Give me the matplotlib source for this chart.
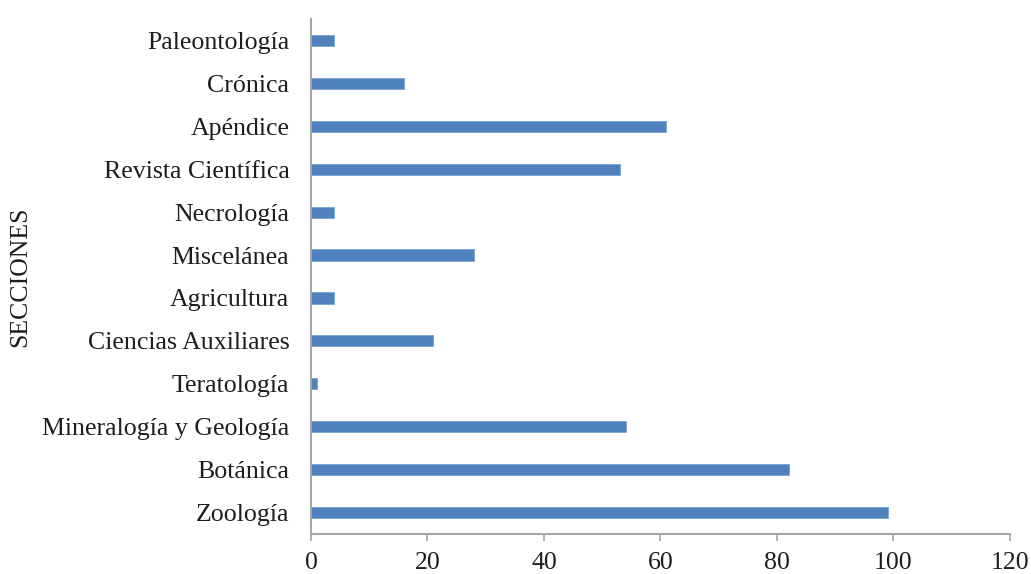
import matplotlib.pyplot as plt

secciones = ['Zoología', 'Botánica', 'Mineralogía y Geología', 'Teratología',
             'Ciencias Auxiliares', 'Agricultura', 'Miscelánea', 'Necrología',
             'Revista Científica', 'Apéndice', 'Crónica', 'Paleontología']
valores = [99, 82, 54, 1, 21, 4, 28, 4, 53, 61, 16, 4]

plt.rcParams['font.family'] = ['Liberation Serif', 'DejaVu Serif']

fig = plt.figure(figsize=(10.31, 5.74), dpi=100)
ax = fig.add_axes([0.3016, 0.0697, 0.678, 0.8972])

pos = range(len(secciones))
ax.barh(pos, valores, height=0.26, color='#4f81bd', edgecolor='#7aa3d6', linewidth=0.6)

ax.set_xlim(0, 120)
ax.set_ylim(-0.5, len(secciones) - 0.5)
ax.set_xticks(range(0, 121, 20))
ax.set_yticks(list(pos))
ax.set_yticklabels(secciones)

axis_col = '#a6a6a6'
for side in ['top', 'right']:
    ax.spines[side].set_visible(False)
ax.spines['left'].set_color(axis_col)
ax.spines['bottom'].set_color(axis_col)
ax.spines['left'].set_linewidth(1.5)
ax.spines['bottom'].set_linewidth(1.5)

fs = 18.6
ax.tick_params(axis='x', direction='out', length=5, width=1.2, color=axis_col,
               labelsize=fs, labelcolor='#1e1e1e', pad=8)
ax.tick_params(axis='y', length=0, labelsize=fs, labelcolor='#1e1e1e', pad=15.5)

ax.set_ylabel('SECCIONES', fontsize=fs, color='#1e1e1e')
ax.yaxis.set_label_coords(-0.40, 0.5)

fig.savefig('out.png', dpi=100)
